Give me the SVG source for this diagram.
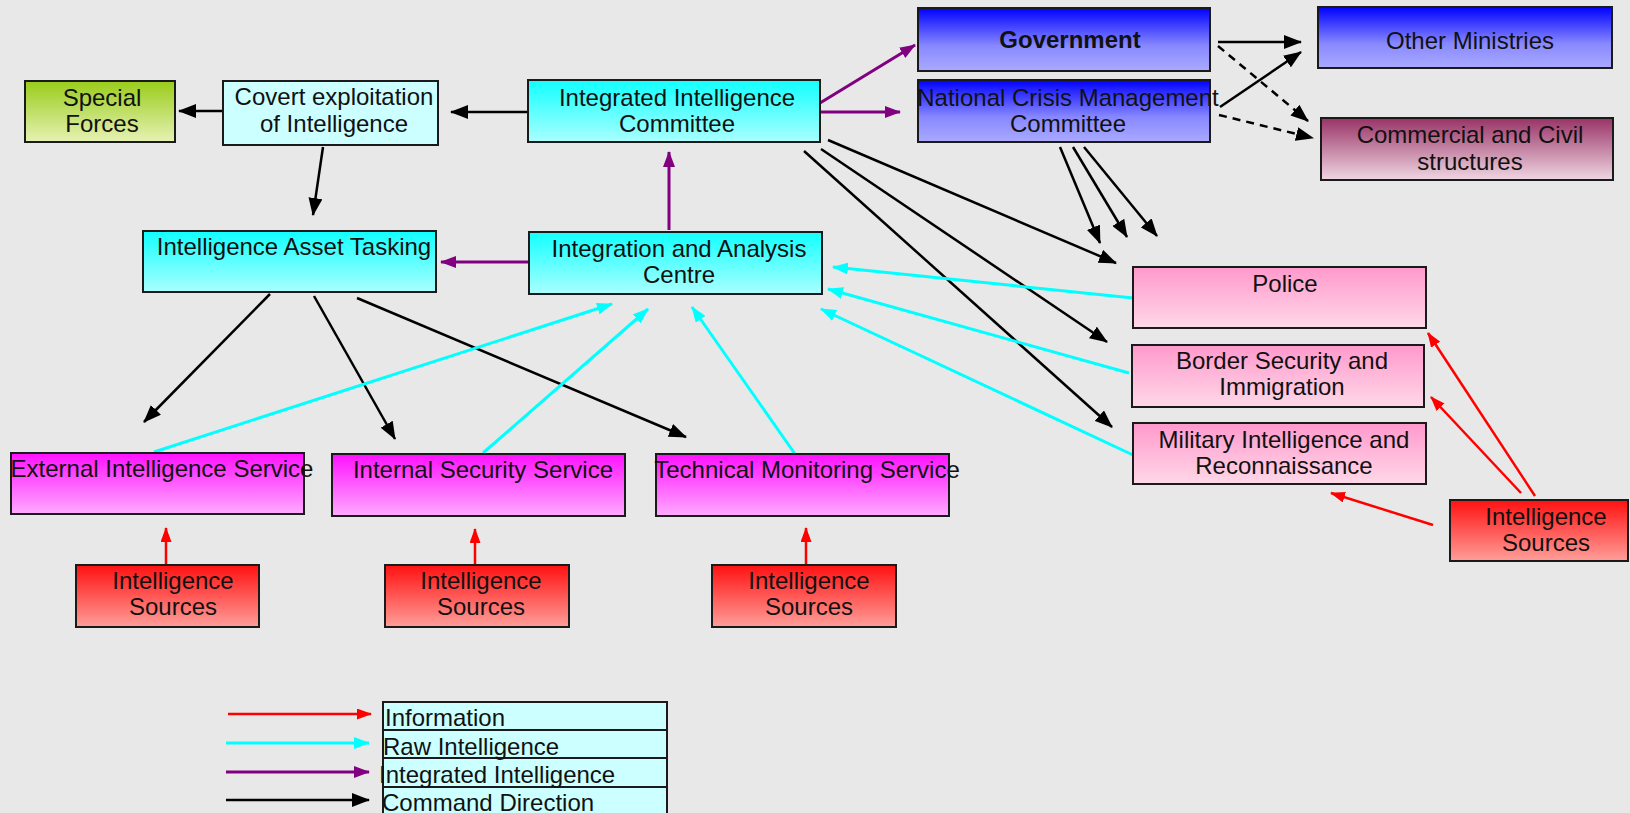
<svg xmlns="http://www.w3.org/2000/svg" width="1630" height="813" viewBox="0 0 1630 813">
<defs>
<linearGradient id="gGreen" x1="0" y1="0" x2="0" y2="1"><stop offset="0" stop-color="#99cc1a"/><stop offset="1" stop-color="#e6f2b3"/></linearGradient>
<linearGradient id="gCyan" x1="0" y1="0" x2="0" y2="1"><stop offset="0" stop-color="#11ffff"/><stop offset="1" stop-color="#aaffff"/></linearGradient>
<linearGradient id="gBlue" x1="0" y1="0" x2="0" y2="1"><stop offset="0" stop-color="#0000ff"/><stop offset="0.6" stop-color="#8888ff"/><stop offset="1" stop-color="#aaaaff"/></linearGradient>
<linearGradient id="gPlum" x1="0" y1="0" x2="0" y2="1"><stop offset="0" stop-color="#993366"/><stop offset="1" stop-color="#f0d6e2"/></linearGradient>
<linearGradient id="gPink" x1="0" y1="0" x2="0" y2="1"><stop offset="0" stop-color="#ff99cc"/><stop offset="1" stop-color="#ffd8e8"/></linearGradient>
<linearGradient id="gMag" x1="0" y1="0" x2="0" y2="1"><stop offset="0" stop-color="#ff11ff"/><stop offset="1" stop-color="#ffaaff"/></linearGradient>
<linearGradient id="gRed" x1="0" y1="0" x2="0" y2="1"><stop offset="0" stop-color="#ff1111"/><stop offset="1" stop-color="#ff9e99"/></linearGradient>
<marker id="aK" markerUnits="userSpaceOnUse" markerWidth="18" markerHeight="14" refX="17" refY="7" orient="auto"><path d="M0,0 L18,7 L0,14 z" fill="#000"/></marker>
<marker id="aC" markerUnits="userSpaceOnUse" markerWidth="16" markerHeight="12" refX="15" refY="6" orient="auto"><path d="M0,0 L16,6 L0,12 z" fill="#00ffff"/></marker>
<marker id="aP" markerUnits="userSpaceOnUse" markerWidth="16" markerHeight="12" refX="15" refY="6" orient="auto"><path d="M0,0 L16,6 L0,12 z" fill="#800080"/></marker>
<marker id="aR" markerUnits="userSpaceOnUse" markerWidth="15" markerHeight="11" refX="14" refY="5.5" orient="auto"><path d="M0,0 L15,5.5 L0,11 z" fill="#ff0000"/></marker>
</defs>
<style>
rect.n{stroke:#1a1a1a;stroke-width:2}
text{font-family:"Liberation Sans",Arial,sans-serif;font-size:24px;fill:#111}
text.c{text-anchor:middle}
text.b{font-weight:bold}
.k{stroke:#000;stroke-width:2.5;fill:none;marker-end:url(#aK)}
.kd{stroke:#000;stroke-width:2.5;fill:none;stroke-dasharray:8,6;marker-end:url(#aK)}
.cy{stroke:#00ffff;stroke-width:3;fill:none;marker-end:url(#aC)}
.pu{stroke:#800080;stroke-width:3;fill:none;marker-end:url(#aP)}
.rd{stroke:#ff0000;stroke-width:2.5;fill:none;marker-end:url(#aR)}
</style>
<rect x="0" y="0" width="1630" height="813" fill="#e8e8e8"/>

<g id="connectors">
<line class="k" x1="528" y1="112" x2="451" y2="112"/>
<line class="k" x1="223" y1="111" x2="179" y2="111"/>
<line class="k" x1="323" y1="147" x2="313" y2="215"/>
<line class="k" x1="270" y1="294" x2="144" y2="422"/>
<line class="k" x1="314" y1="296" x2="395" y2="439"/>
<line class="k" x1="357" y1="298" x2="686" y2="437"/>
<line class="k" x1="828" y1="140" x2="1116" y2="263"/>
<line class="k" x1="821" y1="149" x2="1107" y2="342"/>
<line class="k" x1="804" y1="151" x2="1112" y2="427"/>
<line class="k" x1="1060" y1="147" x2="1100" y2="243"/>
<line class="k" x1="1073" y1="147" x2="1127" y2="237"/>
<line class="k" x1="1084" y1="147" x2="1157" y2="236"/>
<line class="k" x1="1218" y1="42" x2="1301" y2="42"/>
<line class="k" x1="1220" y1="107" x2="1301" y2="52"/>
<line class="kd" x1="1218" y1="46" x2="1308" y2="121"/>
<line class="kd" x1="1219" y1="115" x2="1313" y2="138"/>
<line class="pu" x1="820" y1="103" x2="915" y2="45"/>
<line class="pu" x1="820" y1="112" x2="900" y2="112"/>
<line class="pu" x1="669" y1="230" x2="669" y2="152"/>
<line class="pu" x1="529" y1="262" x2="441" y2="262"/>
<line class="cy" x1="1133" y1="298" x2="833" y2="267"/>
<line class="cy" x1="1129" y1="373" x2="828" y2="289"/>
<line class="cy" x1="1133" y1="455" x2="821" y2="309"/>
<line class="cy" x1="154" y1="452" x2="612" y2="304"/>
<line class="cy" x1="483" y1="453" x2="648" y2="309"/>
<line class="cy" x1="795" y1="454" x2="692" y2="307"/>
<line class="rd" x1="166" y1="565" x2="166" y2="528"/>
<line class="rd" x1="475" y1="565" x2="475" y2="529"/>
<line class="rd" x1="806" y1="565" x2="806" y2="528"/>
<line class="rd" x1="1535" y1="496" x2="1428" y2="333"/>
<line class="rd" x1="1521" y1="493" x2="1431" y2="397"/>
<line class="rd" x1="1433" y1="525" x2="1331" y2="493"/>
</g>

<g id="special"><rect class="n" x="25" y="81" width="150" height="61" fill="url(#gGreen)"/><text class="c" x="102" y="106">Special</text><text class="c" x="102" y="132">Forces</text></g>
<g id="covert"><rect class="n" x="223" y="81" width="215" height="64" fill="#ccffff"/><text class="c" x="334" y="105">Covert exploitation</text><text class="c" x="334" y="132">of Intelligence</text></g>
<g id="iic"><rect class="n" x="528" y="80" width="292" height="62" fill="url(#gCyan)"/><text class="c" x="677" y="106">Integrated Intelligence</text><text class="c" x="677" y="132">Committee</text></g>
<g id="government"><rect class="n" x="918" y="8" width="292" height="63" fill="url(#gBlue)"/><text class="c b" x="1070" y="48">Government</text></g>
<g id="ncmc"><rect class="n" x="918" y="80" width="292" height="62" fill="url(#gBlue)"/><text class="c" x="1068" y="106">National Crisis Management</text><text class="c" x="1068" y="132">Committee</text></g>
<g id="ministries"><rect class="n" x="1318" y="7" width="294" height="61" fill="url(#gBlue)"/><text class="c" x="1470" y="49">Other Ministries</text></g>
<g id="commercial"><rect class="n" x="1321" y="118" width="292" height="62" fill="url(#gPlum)"/><text class="c" x="1470" y="143">Commercial and Civil</text><text class="c" x="1470" y="170">structures</text></g>
<g id="asset"><rect class="n" x="143" y="231" width="293" height="61" fill="url(#gCyan)"/><text class="c" x="294" y="255">Intelligence Asset Tasking</text></g>
<g id="iac"><rect class="n" x="529" y="232" width="293" height="62" fill="url(#gCyan)"/><text class="c" x="679" y="257">Integration and Analysis</text><text class="c" x="679" y="283">Centre</text></g>
<g id="police"><rect class="n" x="1133" y="267" width="293" height="61" fill="url(#gPink)"/><text class="c" x="1285" y="292">Police</text></g>
<g id="border"><rect class="n" x="1132" y="345" width="292" height="62" fill="url(#gPink)"/><text class="c" x="1282" y="369">Border Security and</text><text class="c" x="1282" y="395">Immigration</text></g>
<g id="military"><rect class="n" x="1133" y="423" width="293" height="61" fill="url(#gPink)"/><text class="c" x="1284" y="448">Military Intelligence and</text><text class="c" x="1284" y="474">Reconnaissance</text></g>
<g id="sources-right"><rect class="n" x="1450" y="500" width="178" height="61" fill="url(#gRed)"/><text class="c" x="1546" y="525">Intelligence</text><text class="c" x="1546" y="551">Sources</text></g>
<g id="external"><rect class="n" x="11" y="453" width="293" height="61" fill="url(#gMag)"/><text class="c" x="162" y="477">External Intelligence Service</text></g>
<g id="internal"><rect class="n" x="332" y="454" width="293" height="62" fill="url(#gMag)"/><text class="c" x="483" y="478">Internal Security Service</text></g>
<g id="technical"><rect class="n" x="656" y="454" width="293" height="62" fill="url(#gMag)"/><text class="c" x="807" y="478">Technical Monitoring Service</text></g>
<g id="sources-1"><rect class="n" x="76" y="565" width="183" height="62" fill="url(#gRed)"/><text class="c" x="173" y="589">Intelligence</text><text class="c" x="173" y="615">Sources</text></g>
<g id="sources-2"><rect class="n" x="385" y="565" width="184" height="62" fill="url(#gRed)"/><text class="c" x="481" y="589">Intelligence</text><text class="c" x="481" y="615">Sources</text></g>
<g id="sources-3"><rect class="n" x="712" y="565" width="184" height="62" fill="url(#gRed)"/><text class="c" x="809" y="589">Intelligence</text><text class="c" x="809" y="615">Sources</text></g>

<g id="legend">
<rect class="n" x="383" y="702" width="284" height="28" fill="#ccffff"/>
<rect class="n" x="383" y="730" width="284" height="28" fill="#ccffff"/>
<rect class="n" x="383" y="758" width="284" height="29" fill="#ccffff"/>
<rect class="n" x="383" y="787" width="284" height="30" fill="#ccffff"/>
<line class="rd" x1="228" y1="714" x2="371" y2="714"/>
<line class="cy" x1="226" y1="743" x2="369" y2="743"/>
<line class="pu" x1="226" y1="772" x2="369" y2="772"/>
<line class="k" x1="226" y1="800" x2="369" y2="800"/>
<text x="385" y="726">Information</text>
<text x="383" y="755">Raw Intelligence</text>
<text x="379" y="783">Integrated Intelligence</text>
<text x="382" y="811">Command Direction</text>
</g>
</svg>
